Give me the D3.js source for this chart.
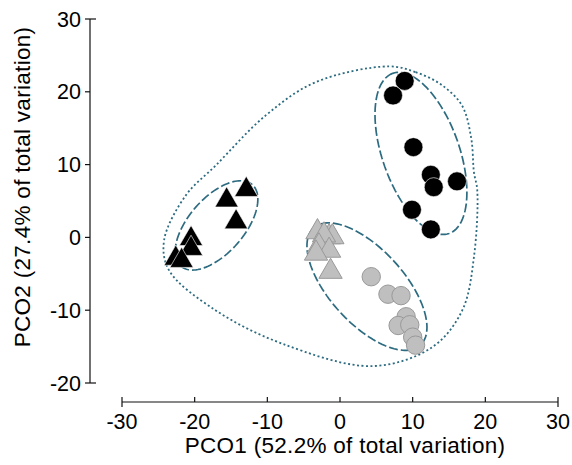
<!DOCTYPE html>
<html><head><meta charset="utf-8">
<script src="https://cdn.jsdelivr.net/npm/d3@7"></script>
<style>body{margin:0;background:#fff}svg{display:block}text{font-family:"Liberation Sans",Arial,sans-serif;fill:#000}</style>
</head><body>
<svg id="c" width="572" height="465"></svg>
<script>
const xTicks = [-30,-20,-10,0,10,20,30];
const yTicks = [-20,-10,0,10,20,30];
const xTitle = "PCO1 (52.2% of total variation)";
const yTitle = "PCO2 (27.4% of total variation)";

const blackCircles = [[8.9,21.5],[7.3,19.5],[10.1,12.4],[12.5,8.6],[12.9,6.9],[16.1,7.7],[9.9,3.8],[12.5,1.1]];
const blackTriangles = [[-12.9,6.55],[-15.6,5.1],[-14.3,2.1],[-20.5,-0.2],[-20.5,-1.55],[-22.6,-2.9],[-21.8,-3.2]];
const grayTriangles = [[-3.1,0.74],[-1.5,0.05],[-1.05,0.05],[-2.2,0.3],[-2.9,-1.2],[-1.5,-1.8],[-3.3,-2.2],[-1.3,-4.7]];
const grayCircles = [[4.3,-5.4],[6.6,-7.8],[8.4,-8.0],[9.1,-10.9],[8.0,-12.1],[9.6,-12.0],[10.0,-13.7],[10.4,-14.8]];

// ellipses: [cx, cy, semi-major, semi-minor, angle of major axis (deg)]
const ellipses = [[11.14,11.54,11.66,5.3,109.4],[-16.99,1.65,7.45,3.8,48.7],[3.71,-6.76,10.9,5.1,132.4]];
const hull = [[6.74,23.49],[10.41,22.7],[13.9,21.0],[16.78,18.13],[18.06,13.6],[18.43,8.97],[18.89,6.46],[18.43,-2.71],[16.82,-10.03],[12.7,-15.07],[4.44,-17.68],[-7.94,-14.6],[-17.1,-10.03],[-23.52,-4.53],[-24.21,-0.41],[-21.22,5.77],[-17.1,9.89],[-10.22,16.76],[-3.34,21.33]];

const svg = d3.select("#c");
const x = d3.scaleLinear().domain([-30,30]).range([122,558]);
const y = d3.scaleLinear().domain([-20,30]).range([383,19]);
const teal = "#2c6b80";

// axes
const ax = svg.append("g").attr("stroke","#111").attr("stroke-width",1.2);
ax.append("line").attr("x1",x(-30)).attr("x2",x(30)).attr("y1",402).attr("y2",402);
ax.append("line").attr("x1",90).attr("x2",90).attr("y1",y(30)).attr("y2",y(-20));
xTicks.forEach((t,i)=>{
  const end = i===0||i===xTicks.length-1;
  ax.append("line").attr("x1",x(t)).attr("x2",x(t)).attr("y1",397).attr("y2",end?407:402);
});
yTicks.forEach((t,i)=>{
  const end = i===0||i===yTicks.length-1;
  ax.append("line").attr("x1",85).attr("x2",end?96:90).attr("y1",y(t)).attr("y2",y(t));
});
svg.append("g").selectAll("text").data(xTicks).join("text")
  .attr("x",d=>x(d)).attr("y",429).attr("text-anchor","middle").attr("font-size",21.5).text(d=>d);
svg.append("g").selectAll("text").data(yTicks).join("text")
  .attr("x",81).attr("y",d=>y(d)+7.5).attr("text-anchor","end").attr("font-size",21.5).text(d=>d);
svg.append("text").attr("x",345).attr("y",453).attr("text-anchor","middle").attr("font-size",22.5).attr("letter-spacing",0.3).text(xTitle);
svg.append("text").attr("transform","translate(30,187) rotate(-90)").attr("text-anchor","middle").attr("font-size",22.5).attr("letter-spacing",0.3).text(yTitle);

// hull
svg.append("path").datum(hull)
  .attr("d",d3.line().x(d=>x(d[0])).y(d=>y(d[1])).curve(d3.curveCatmullRomClosed.alpha(0.5)))
  .attr("fill","none").attr("stroke",teal).attr("stroke-width",1.8).attr("stroke-dasharray","2,2.5");

// ellipses
ellipses.forEach(([cx,cy,a,b,ang])=>{
  const r = ang*Math.PI/180, u=[Math.cos(r),Math.sin(r)], v=[-Math.sin(r),Math.cos(r)];
  const pts = d3.range(0,361,3).map(t=>{const q=t*Math.PI/180;return [cx+a*Math.cos(q)*u[0]+b*Math.sin(q)*v[0], cy+a*Math.cos(q)*u[1]+b*Math.sin(q)*v[1]];});
  svg.append("path").datum(pts)
    .attr("d",d3.line().x(d=>x(d[0])).y(d=>y(d[1])).curve(d3.curveLinearClosed))
    .attr("fill","none").attr("stroke",teal).attr("stroke-width",1.7).attr("stroke-dasharray","9,3");
});

const tri = d3.symbol().type(d3.symbolTriangle).size(235);
svg.append("g").selectAll("path").data(grayTriangles).join("path")
  .attr("transform",d=>`translate(${x(d[0])},${y(d[1])})`).attr("d",tri)
  .attr("fill","#bfbfbf").attr("stroke","#999").attr("stroke-width",1);
svg.append("g").selectAll("circle").data(grayCircles).join("circle")
  .attr("cx",d=>x(d[0])).attr("cy",d=>y(d[1])).attr("r",9.2)
  .attr("fill","#bfbfbf").attr("stroke","#999").attr("stroke-width",1);
svg.append("g").selectAll("path").data(blackTriangles).join("path")
  .attr("transform",d=>`translate(${x(d[0])},${y(d[1])})`).attr("d",tri)
  .attr("fill","#000").attr("stroke","#fff").attr("stroke-width",0.6);
svg.append("g").selectAll("circle").data(blackCircles).join("circle")
  .attr("cx",d=>x(d[0])).attr("cy",d=>y(d[1])).attr("r",9.5)
  .attr("fill","#000").attr("stroke","#fff").attr("stroke-width",0.6);
</script>
</body></html>
